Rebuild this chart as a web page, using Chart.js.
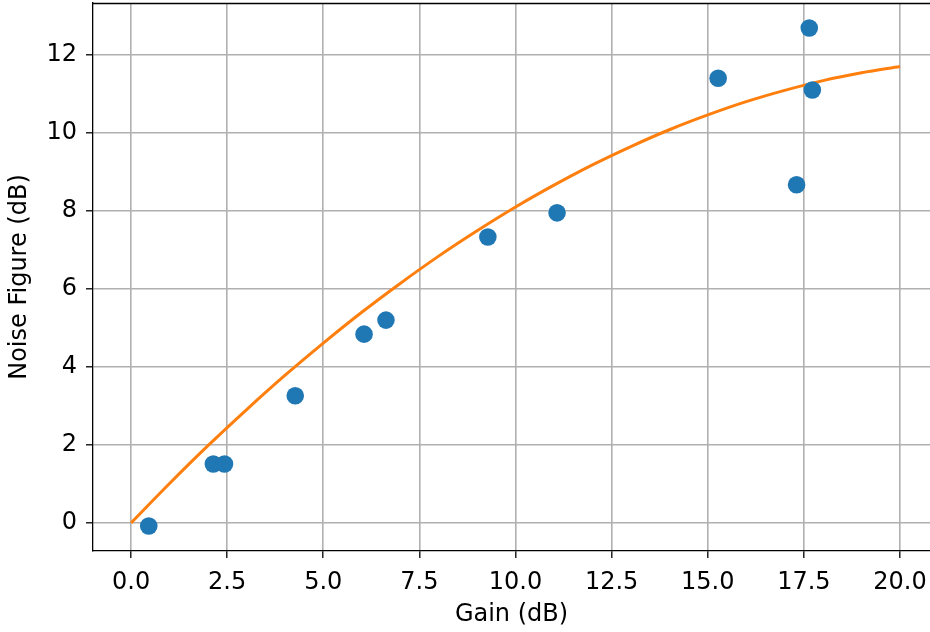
<!DOCTYPE html>
<html>
<head>
<meta charset="utf-8">
<script src="https://cdn.jsdelivr.net/npm/chart.js@4.4.1/dist/chart.umd.min.js"></script>
<style>
html,body{margin:0;padding:0;background:#fff;}
#wrap{width:930px;height:632px;position:relative;}
</style>
</head>
<body>
<div id="wrap"><canvas id="c" width="930" height="632"></canvas></div>
<script>
// Measured points
const gainX = [0.46, 2.14, 2.43, 4.27, 6.06, 6.63, 9.28, 11.08, 15.27, 17.31, 17.64, 17.72];
const noiseY = [-0.08, 1.51, 1.51, 3.26, 4.84, 5.2, 7.33, 7.95, 11.4, 8.67, 12.69, 11.1];
// Fitted curve
const curveX = [0,1,2,3,4,5,6,7,8,9,10,11,12,13,14,15,16,17,18,19,20];
const curveY = [0,1.01,1.98,2.9,3.78,4.61,5.4,6.14,6.84,7.49,8.1,8.66,9.18,9.65,10.08,10.46,10.8,11.09,11.34,11.54,11.7];
// Tick labels
const xTicks = [0,2.5,5,7.5,10,12.5,15,17.5,20];
const yTicks = [0,2,4,6,8,10,12];

const FONT = "'DejaVu Sans', sans-serif";
const FS = 24;
const topSpine = {
  id:'topSpine',
  afterDraw(chart){
    const {ctx, chartArea:a} = chart;
    ctx.save();
    ctx.strokeStyle='#000'; ctx.lineWidth=1.3;
    ctx.beginPath(); ctx.moveTo(a.left, a.top+0.5); ctx.lineTo(a.right, a.top+0.5); ctx.stroke();
    ctx.restore();
  }
};

new Chart(document.getElementById('c'), {
  type:'scatter',
  data:{
    datasets:[
      {
        label:'data', data: gainX.map((x,i)=>({x, y:noiseY[i]})),
        backgroundColor:'#1f77b4', borderColor:'#1f77b4', pointRadius:8.8, pointHoverRadius:8.8, borderWidth:0, order:0, clip:false
      },
      {
        label:'fit', type:'line', data: curveX.map((x,i)=>({x, y:curveY[i]})),
        borderColor:'#ff7f0e', borderWidth:3, pointRadius:0, fill:false, cubicInterpolationMode:'monotone', order:1
      }
    ]
  },
  options:{
    responsive:false, animation:false, devicePixelRatio:1,
    layout:{autoPadding:false, padding:{left:0, right:0, top:3, bottom:0}},
    plugins:{legend:{display:false}, tooltip:{enabled:false}},
    scales:{
      x:{
        type:'linear', min:-0.99, max:20.78,
        afterBuildTicks(s){ s.ticks = xTicks.map(v=>({value:v})); },
        afterFit(s){ s.height = 81; s.paddingLeft = 0; s.paddingRight = 0; },
        ticks:{ color:'#000', font:{family:FONT, size:FS}, padding:10, maxRotation:0, autoSkip:false,
          callback:(v)=>Number(v).toFixed(1) },
        grid:{ color:'#b0b0b0', lineWidth:1.6, tickLength:7, tickColor:'#000', tickWidth:1.3 },
        border:{ display:true, color:'#000', width:1.3 },
        title:{ display:true, text:'Gain (dB)', color:'#000', font:{family:FONT, size:FS}, padding:{top:0, bottom:3} }
      },
      y:{
        type:'linear', min:-0.72, max:13.33,
        afterBuildTicks(s){ s.ticks = yTicks.map(v=>({value:v})); },
        afterFit(s){ s.width = 93; s.paddingTop = 0; s.paddingBottom = 0; },
        ticks:{ color:'#000', font:{family:FONT, size:FS}, padding:9, autoSkip:false,
          callback:(v)=>String(v) },
        grid:{ color:'#b0b0b0', lineWidth:1.6, tickLength:7, tickColor:'#000', tickWidth:1.3 },
        border:{ display:true, color:'#000', width:1.3 },
        title:{ display:true, text:'Noise Figure (dB)', color:'#000', font:{family:FONT, size:FS}, padding:{top:5, bottom:0} }
      }
    }
  },
  plugins:[topSpine]
});
</script>
</body>
</html>
